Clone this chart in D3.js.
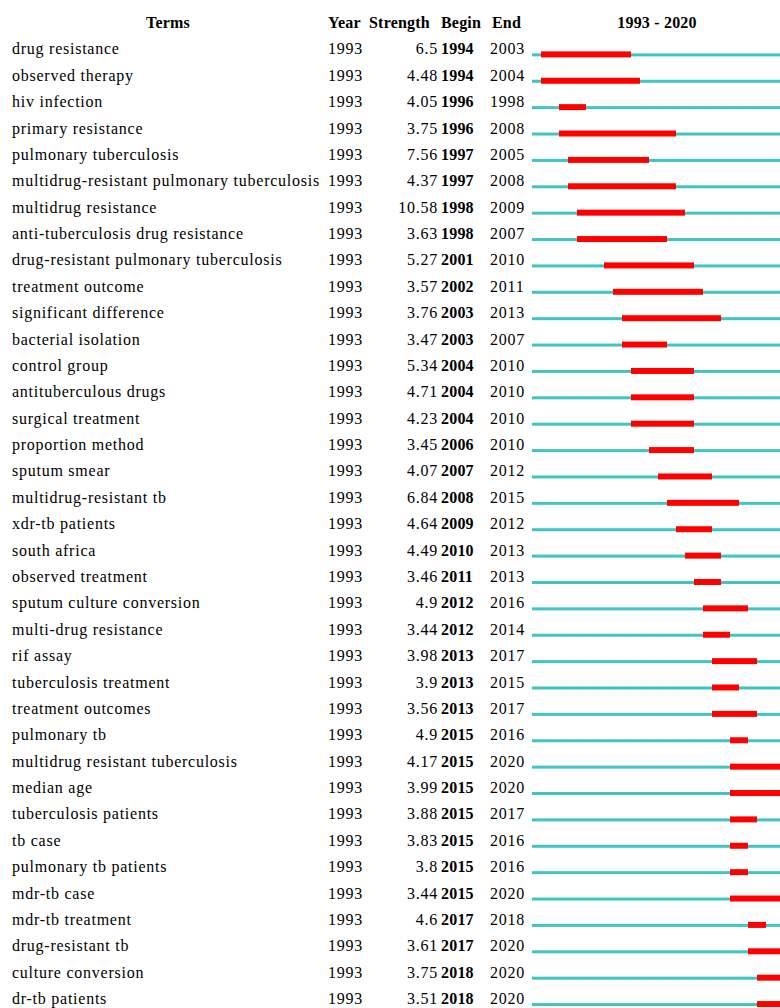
<!DOCTYPE html>
<html><head><meta charset="utf-8">
<script src="https://cdn.jsdelivr.net/npm/d3@7"></script>
<style>
html,body{margin:0;padding:0;background:#fff;}
svg{display:block;}
text{font-family:"Liberation Serif","Times New Roman",serif;font-size:16px;fill:#000;letter-spacing:0.75px;}
</style></head>
<body>
<svg id="chart" width="780" height="1008"></svg>
<script>
const terms = ["drug resistance","observed therapy","hiv infection","primary resistance","pulmonary tuberculosis","multidrug-resistant pulmonary tuberculosis","multidrug resistance","anti-tuberculosis drug resistance","drug-resistant pulmonary tuberculosis","treatment outcome","significant difference","bacterial isolation","control group","antituberculous drugs","surgical treatment","proportion method","sputum smear","multidrug-resistant tb","xdr-tb patients","south africa","observed treatment","sputum culture conversion","multi-drug resistance","rif assay","tuberculosis treatment","treatment outcomes","pulmonary tb","multidrug resistant tuberculosis","median age","tuberculosis patients","tb case","pulmonary tb patients","mdr-tb case","mdr-tb treatment","drug-resistant tb","culture conversion","dr-tb patients"];
const strengths = ["6.5","4.48","4.05","3.75","7.56","4.37","10.58","3.63","5.27","3.57","3.76","3.47","5.34","4.71","4.23","3.45","4.07","6.84","4.64","4.49","3.46","4.9","3.44","3.98","3.9","3.56","4.9","4.17","3.99","3.88","3.83","3.8","3.44","4.6","3.61","3.75","3.51"];
const begins = [1994,1994,1996,1996,1997,1997,1998,1998,2001,2002,2003,2003,2004,2004,2004,2006,2007,2008,2009,2010,2011,2012,2012,2013,2013,2013,2015,2015,2015,2015,2015,2015,2015,2017,2017,2018,2018];
const ends = [2003,2004,1998,2008,2005,2008,2009,2007,2010,2011,2013,2007,2010,2010,2010,2010,2012,2015,2012,2013,2013,2016,2014,2017,2015,2017,2016,2020,2020,2017,2016,2016,2020,2018,2020,2020,2020];
const firstYear = 1993, lastYear = 2020;
const headers = ["Terms","Year","Strength","Begin","End","1993 - 2020"];

const svg = d3.select("#chart");
const rowStep = 26.38;
const y = d3.scaleLinear().domain([-1, 0]).range([28, 28 + rowStep]);
const x = d3.scaleLinear().domain([firstYear, lastYear + 1]).range([532, 532 + 9 * (lastYear + 1 - firstYear)]);

// headers
const hdr = svg.append("g");
const hx = [[168,"middle"],[328,"start"],[369,"start"],[441,"start"],[492,"start"],[657,"middle"]];
headers.forEach((h,k)=>{
  hdr.append("text").attr("x",hx[k][0]).attr("y",y(-1)).attr("text-anchor",hx[k][1])
    .style("font-weight","bold").style("letter-spacing","0.2px").text(h);
});

const data = terms.map((t,i)=>({t, s:strengths[i], b:begins[i], e:ends[i], i}));
const rows = svg.append("g").selectAll("g").data(data).join("g");
rows.append("text").attr("x",12).attr("y",d=>y(d.i)).text(d=>d.t);
rows.append("text").attr("x",328).attr("y",d=>y(d.i)).text(firstYear);
rows.append("text").attr("x",438).attr("y",d=>y(d.i)).attr("text-anchor","end").text(d=>d.s);
rows.append("text").attr("x",441).attr("y",d=>y(d.i)).style("font-weight","bold").style("letter-spacing","0.2px").text(d=>d.b);
rows.append("text").attr("x",490).attr("y",d=>y(d.i)).text(d=>d.e);
rows.append("rect").attr("x",x(firstYear)).attr("y",d=>y(d.i)-1)
  .attr("width",x(lastYear+1)-x(firstYear)).attr("height",3).attr("fill","#40c4c4");
rows.append("rect").attr("x",d=>x(d.b)).attr("y",d=>y(d.i)-3)
  .attr("width",d=>x(d.e+1)-x(d.b)).attr("height",6).attr("fill","#ff0000");
</script>
</body></html>
